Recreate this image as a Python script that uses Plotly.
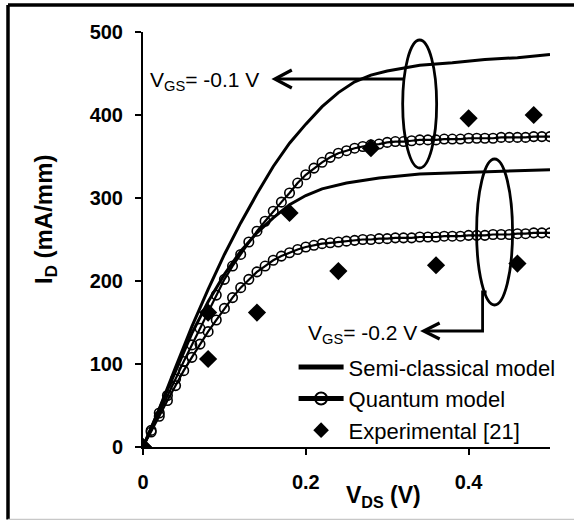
import plotly.graph_objects as go

# ---------------- data ----------------
# Semi-classical model
semi_x_01 = [0.00, 0.02, 0.04, 0.06, 0.08, 0.10, 0.12, 0.14, 0.16, 0.18, 0.20,
             0.22, 0.24, 0.26, 0.28, 0.30, 0.34, 0.38, 0.42, 0.46, 0.50]
semi_y_01 = [0, 46, 96, 145, 190, 232, 270, 305, 338, 366, 389,
             410, 427, 440, 448, 453, 460, 463, 467, 469, 473]

semi_x_02 = [0.00, 0.02, 0.04, 0.06, 0.08, 0.10, 0.12, 0.14, 0.16, 0.18, 0.20,
             0.22, 0.25, 0.29, 0.34, 0.41, 0.45, 0.50]
semi_y_02 = [0, 45, 92, 137, 175, 208, 236, 258, 276, 292, 303,
             311, 318, 324, 329, 331, 332, 334]

# Quantum model
quant_x = [0.00, 0.01, 0.02, 0.03, 0.04, 0.05, 0.06, 0.07, 0.08, 0.09, 0.10,
           0.11, 0.12, 0.13, 0.14, 0.15, 0.16, 0.17, 0.18, 0.19, 0.20,
           0.21, 0.22, 0.23, 0.24, 0.25, 0.26, 0.27, 0.28, 0.29, 0.30,
           0.31, 0.32, 0.33, 0.34, 0.35, 0.36, 0.37, 0.38, 0.39, 0.40,
           0.41, 0.42, 0.43, 0.44, 0.45, 0.46, 0.47, 0.48, 0.49, 0.50]
quant_y_01 = [0, 20, 41, 62, 82, 103, 123, 143, 163, 183, 202,
              218, 232, 247, 260, 272, 284, 295, 306, 318, 328,
              336, 343, 349, 354, 357, 360, 362, 364, 365, 367,
              368, 368, 369, 370, 370, 370, 371, 371, 371, 372,
              372, 372, 372, 373, 373, 373, 373, 374, 374, 374]
quant_y_02 = [0, 18, 37, 56, 74, 92, 108, 124, 139, 153, 167,
              180, 192, 202, 211, 218, 225, 230, 234, 238, 241,
              243, 245, 246, 247, 248, 249, 250, 250, 251, 251,
              252, 252, 252, 253, 253, 253, 254, 254, 254, 255,
              255, 255, 256, 256, 256, 257, 257, 258, 258, 258]

# Experimental [21]
exp_x_01 = [0.00, 0.08, 0.18, 0.28, 0.40, 0.48]
exp_y_01 = [0, 162, 282, 360, 396, 400]
exp_x_02 = [0.00, 0.08, 0.14, 0.24, 0.36, 0.46]
exp_y_02 = [0, 106, 162, 212, 219, 221]

x_ticks = [0, 0.2, 0.4]
x_tick_text = ["0", "0.2", "0.4"]
y_ticks = [0, 100, 200, 300, 400, 500]

FONT = "Liberation Sans, Arial, sans-serif"

# pixel helpers for decorations (plot area: x 143..550, y 447..32)
def px(xp):
    return (xp - 143) / 815.0


def py(yp):
    return (447 - yp) / 0.83


fig = go.Figure()

fig.add_trace(go.Scatter(x=semi_x_01, y=semi_y_01, mode="lines",
                         line=dict(color="black", width=3),
                         name="Semi-classical model", legendgroup="semi",
                         showlegend=True))
fig.add_trace(go.Scatter(x=semi_x_02, y=semi_y_02, mode="lines",
                         line=dict(color="black", width=3),
                         name="Semi-classical model", legendgroup="semi",
                         showlegend=False))
for i, qy in enumerate([quant_y_01, quant_y_02]):
    fig.add_trace(go.Scatter(x=quant_x, y=qy, mode="lines+markers",
                             line=dict(color="black", width=2.2),
                             marker=dict(symbol="circle-open", size=9.5,
                                         color="black", line=dict(width=1.6)),
                             name="Quantum model", legendgroup="quant",
                             showlegend=(i == 0)))
for i, (ex, ey) in enumerate([(exp_x_01, exp_y_01), (exp_x_02, exp_y_02)]):
    fig.add_trace(go.Scatter(x=ex, y=ey, mode="markers",
                             marker=dict(symbol="diamond", size=14, color="black"),
                             name="Experimental [21]", legendgroup="exp",
                             showlegend=(i == 0)))

LW = 2.8
shapes = [
    # ellipses
    dict(type="circle", xref="x", yref="y", x0=px(403), x1=px(437),
         y0=py(168), y1=py(40), line=dict(color="black", width=LW)),
    dict(type="circle", xref="x", yref="y", x0=px(477), x1=px(513),
         y0=py(305), y1=py(159), line=dict(color="black", width=LW)),
    # arrow to V_GS = -0.1 V
    dict(type="path", xref="x", yref="y",
         path=f"M {px(404)},{py(79)} L {px(276)},{py(79)}",
         line=dict(color="black", width=LW)),
    dict(type="path", xref="x", yref="y",
         path=f"M {px(292)},{py(70)} L {px(275)},{py(79)} L {px(292)},{py(88)}",
         line=dict(color="black", width=3.2)),
    # arrow to V_GS = -0.2 V
    dict(type="path", xref="x", yref="y",
         path=(f"M {px(487)},{py(292)} L {px(483)},{py(292)} "
               f"L {px(483)},{py(331)} L {px(425)},{py(331)}"),
         line=dict(color="black", width=LW)),
    dict(type="path", xref="x", yref="y",
         path=f"M {px(440)},{py(323)} L {px(424)},{py(331)} L {px(440)},{py(339)}",
         line=dict(color="black", width=3.2)),
    # outer frame
    dict(type="line", xref="paper", yref="paper", x0=-0.3317, x1=-0.3317,
         y0=-0.1747, y1=1.0651, line=dict(color="black", width=3.5)),
    dict(type="line", xref="paper", yref="paper", x0=-0.3317, x1=1.06,
         y0=1.0651, y1=1.0651, line=dict(color="black", width=3.5)),
    dict(type="line", xref="paper", yref="paper", x0=-0.3317, x1=1.06,
         y0=-0.1747, y1=-0.1747, line=dict(color="#c8c8c8", width=1.5)),
]

annotations = [
    dict(x=(148 - 143) / 407, y=(447 - 81) / 415, xref="paper", yref="paper",
         xanchor="left", yanchor="middle", text="V<sub>GS</sub>= -0.1 V",
         showarrow=False, font=dict(family=FONT, size=21, color="black")),
    dict(x=(306 - 143) / 407, y=(447 - 334) / 415, xref="paper", yref="paper",
         xanchor="left", yanchor="middle", text="V<sub>GS</sub>= -0.2 V",
         showarrow=False, font=dict(family=FONT, size=21, color="black")),
    # axis titles
    dict(x=(45 - 143) / 407, y=(447 - 220) / 415, xref="paper", yref="paper",
         xanchor="center", yanchor="middle", textangle=-90,
         text="<b>I<sub>D</sub> (mA/mm)</b>", showarrow=False,
         font=dict(family=FONT, size=24, color="black")),
    dict(x=(383 - 143) / 407, y=(447 - 496) / 415, xref="paper", yref="paper",
         xanchor="center", yanchor="middle",
         text="<b>V<sub>DS</sub> (V)</b>", showarrow=False,
         font=dict(family=FONT, size=23, color="black")),
]

fig.update_layout(
    width=574, height=520,
    margin=dict(l=143, r=24, t=32, b=73),
    paper_bgcolor="white", plot_bgcolor="white",
    font=dict(family=FONT, size=20, color="black"),
    shapes=shapes, annotations=annotations,
    legend=dict(x=0.37, y=0.243, xanchor="left", yanchor="top",
                bgcolor="rgba(0,0,0,0)", font=dict(family=FONT, size=22),
                tracegroupgap=0, itemsizing="constant", itemwidth=45),
    showlegend=True,
)
fig.update_xaxes(range=[0, 0.5], tickvals=x_ticks, ticktext=x_tick_text,
                 showgrid=False, zeroline=False, showline=True,
                 linecolor="black", linewidth=2, ticks="outside", ticklen=6,
                 tickwidth=2, tickcolor="black",
                 tickfont=dict(family=FONT, size=20, weight="bold"),
                 ticklabelstandoff=10)
fig.update_yaxes(range=[0, 500], tickvals=y_ticks,
                 showgrid=False, zeroline=False, showline=True,
                 linecolor="black", linewidth=2, ticks="outside", ticklen=6,
                 tickwidth=2, tickcolor="black",
                 tickfont=dict(family=FONT, size=20, weight="bold"),
                 ticklabelstandoff=8)

fig.write_html("out.html")
